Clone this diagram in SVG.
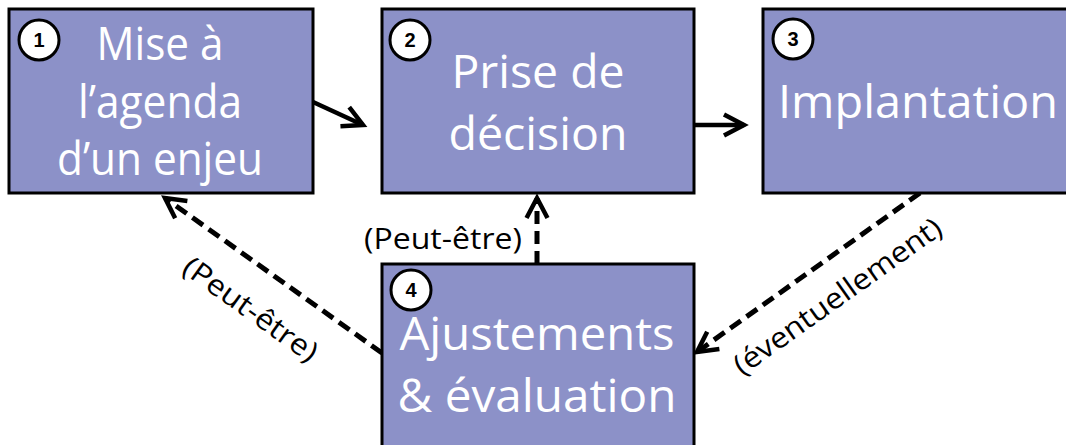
<svg xmlns="http://www.w3.org/2000/svg" width="1066" height="445" viewBox="0 0 1066 445">
<defs>
<style>
.box{fill:#8C91C8;stroke:#000;stroke-width:3}
.badge{fill:#fff;stroke:#000;stroke-width:3}
.num{font-family:"Liberation Sans","Open Sans",sans-serif;font-weight:bold;font-size:20px;fill:#000;text-anchor:middle}
.main{font-family:"Open Sans","Liberation Sans",sans-serif;font-size:45px;fill:#fff;text-anchor:middle}
.lbl{font-family:"Open Sans","Liberation Sans",sans-serif;font-size:29px;fill:#000;text-anchor:middle}
.solid{fill:none;stroke:#000;stroke-width:4.5}
.dash{fill:none;stroke:#000;stroke-width:5;stroke-dasharray:13 7}
</style>
<marker id="chev" markerUnits="userSpaceOnUse" orient="auto" refX="0" refY="0" markerWidth="40" markerHeight="40" viewBox="-30 -20 40 40" overflow="visible">
<path d="M-20,-10.5 L0,0 L-20,10.5" fill="none" stroke="#000" stroke-width="4.5" stroke-dasharray="none"/>
</marker>
</defs>
<g id="connectors">
<line class="solid" x1="313" y1="102" x2="363" y2="125" marker-end="url(#chev)"/>
<line class="solid" x1="695" y1="125" x2="744" y2="125" marker-end="url(#chev)"/>
<line class="dash" x1="920" y1="193" x2="697" y2="352" marker-end="url(#chev)"/>
<line class="dash" x1="382" y1="353" x2="165" y2="198" marker-end="url(#chev)"/>
<line class="dash" x1="537" y1="264" x2="537" y2="198" marker-end="url(#chev)"/>
<text class="lbl" x="443" y="249" textLength="158" lengthAdjust="spacingAndGlyphs">(Peut-être)</text>
<text class="lbl" transform="translate(250,310) rotate(35.5)" x="0" y="9" textLength="158" lengthAdjust="spacingAndGlyphs">(Peut-être)</text>
<text class="lbl" transform="translate(838,297) rotate(-35.4)" x="0" y="9" textLength="248" lengthAdjust="spacingAndGlyphs">(éventuellement)</text>
</g>
<g id="node1">
<rect class="box" x="9" y="9" width="304" height="184"/>
<circle class="badge" cx="39" cy="40" r="20"/>
<text class="num" x="39" y="47">1</text>
<text class="main" x="160" y="60" textLength="127" lengthAdjust="spacingAndGlyphs">Mise à</text>
<text class="main" x="160" y="118" textLength="164" lengthAdjust="spacingAndGlyphs">l’agenda</text>
<text class="main" x="160" y="175" textLength="206" lengthAdjust="spacingAndGlyphs">d’un enjeu</text>
</g>
<g id="node2">
<rect class="box" x="382" y="9" width="312" height="184"/>
<circle class="badge" cx="410" cy="40" r="20"/>
<text class="num" x="410" y="47">2</text>
<text class="main" x="538" y="88" textLength="173" lengthAdjust="spacingAndGlyphs">Prise de</text>
<text class="main" x="538" y="150" textLength="179" lengthAdjust="spacingAndGlyphs">décision</text>
</g>
<g id="node3">
<rect class="box" x="763" y="9" width="320" height="184"/>
<circle class="badge" cx="793" cy="39" r="20"/>
<text class="num" x="793" y="46">3</text>
<text class="main" x="918" y="118" textLength="280" lengthAdjust="spacingAndGlyphs">Implantation</text>
</g>
<g id="node4">
<rect class="box" x="382" y="264" width="312" height="200"/>
<circle class="badge" cx="411" cy="290" r="20"/>
<text class="num" x="411" y="297">4</text>
<text class="main" x="537" y="350" textLength="275" lengthAdjust="spacingAndGlyphs">Ajustements</text>
<text class="main" x="537" y="412" textLength="279" lengthAdjust="spacingAndGlyphs">&amp; évaluation</text>
</g>
</svg>
